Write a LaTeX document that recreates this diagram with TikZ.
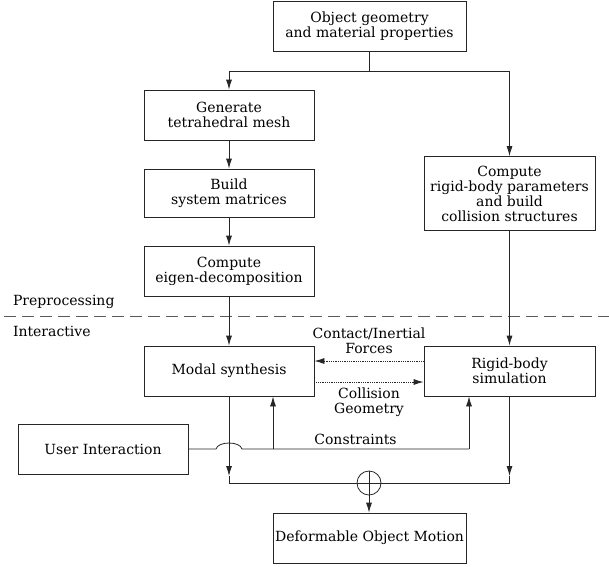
\documentclass[tikz,border=0pt]{standalone}
\usepackage{fontspec}
\setmainfont{DejaVu Serif}
\usetikzlibrary{arrows.meta,positioning}

\begin{document}
\begin{tikzpicture}[x=1pt,y=-1pt,
every node/.style={font=\fontsize{14}{15}\selectfont},
wire/.style={draw=black!85,line width=0.8pt},
box/.style={wire,align=center,inner sep=2pt,minimum height=50pt},
wide/.style={box,minimum width=193pt},
narrow/.style={box,minimum width=170pt},
flow/.style={wire,-{Latex[length=10pt,width=6pt]}},
info/.style={flow,densely dotted},
tag/.style={align=center}]
\useasboundingbox (0,0) rectangle (609,566);

%preprocessing part
\node[wide](obj) at (369.5,26) {Object geometry\\and material properties};
\node[narrow](gen) at (229,115) {Generate\\tetrahedral mesh};
\node[narrow,minimum height=48pt](build) at (229,193) {Build\\system matrices};
\node[narrow](eig) at (229,271) {Compute\\eigen-decomposition};
\node[narrow,minimum width=171pt,minimum height=74pt](rbp) at (509.5,193.5) {Compute\\rigid-body parameters\\and build\\collision structures};

%interactive part
\node[narrow](modal) at (229,371) {Modal synthesis};
\node[narrow,minimum width=171pt](rbs) at (509.5,371) {Rigid-body\\simulation};
\node[narrow](user) at (103,449) {User Interaction};
\node[wide](def) at (369.5,538) {Deformable Object Motion};
\node[wire,circle,minimum size=24pt,inner sep=0pt](sum) at (369,483) {};

%separator
\node[anchor=west](pre) at (9.5,301.5) {Preprocessing};
\node[anchor=west](inter) at (9.5,331) {Interactive};
\draw[wire,draw=black!65,dash pattern=on 12pt off 6pt] (4,316) -- (609,316);

\coordinate(split) at (369.5,71);
\draw[wire] (obj) -- (split);
\draw[flow] (split) -| (gen);
\draw[flow] (split) -| (rbp);
\draw[flow] (gen) -- (build);
\draw[flow] (build) -- (eig);
\draw[flow] (eig) -- (modal);
\draw[flow] (rbp) -- (rbs);

%exchange between the two simulations
\draw[info] (rbs.west |- 0,361) -- node[tag,above=4pt]{Contact/Inertial\\Forces} (modal.east |- 0,361);
\draw[info] (modal.east |- 0,382) -- node[tag,below=2pt]{Collision\\Geometry} (rbs.west |- 0,382);

%user constraints, jumping over the modal output
\coordinate(tapM) at (273,449);
\coordinate(tapR) at (469,449);
\draw[wire] (user) -- (216,449) .. controls (218,441) and (240,441) .. (242,449)
	-- node[above=1pt]{Constraints} (tapR);
\draw[flow] (tapM) -- (modal.south -| tapM);
\draw[flow] (tapR) -- (rbs.south -| tapR);

%sum of both motions
\coordinate(inL) at (229,476);
\coordinate(inR) at (509.5,476);
\draw[flow] (modal) -- (inL);
\draw[flow] (rbs) -- (inR);
\draw[wire] (inL) -- (inL |- sum) -- (inR |- sum) -- (inR);
\draw[flow] (sum.north) -- (sum.north |- def.north);
\end{tikzpicture}
\end{document}
